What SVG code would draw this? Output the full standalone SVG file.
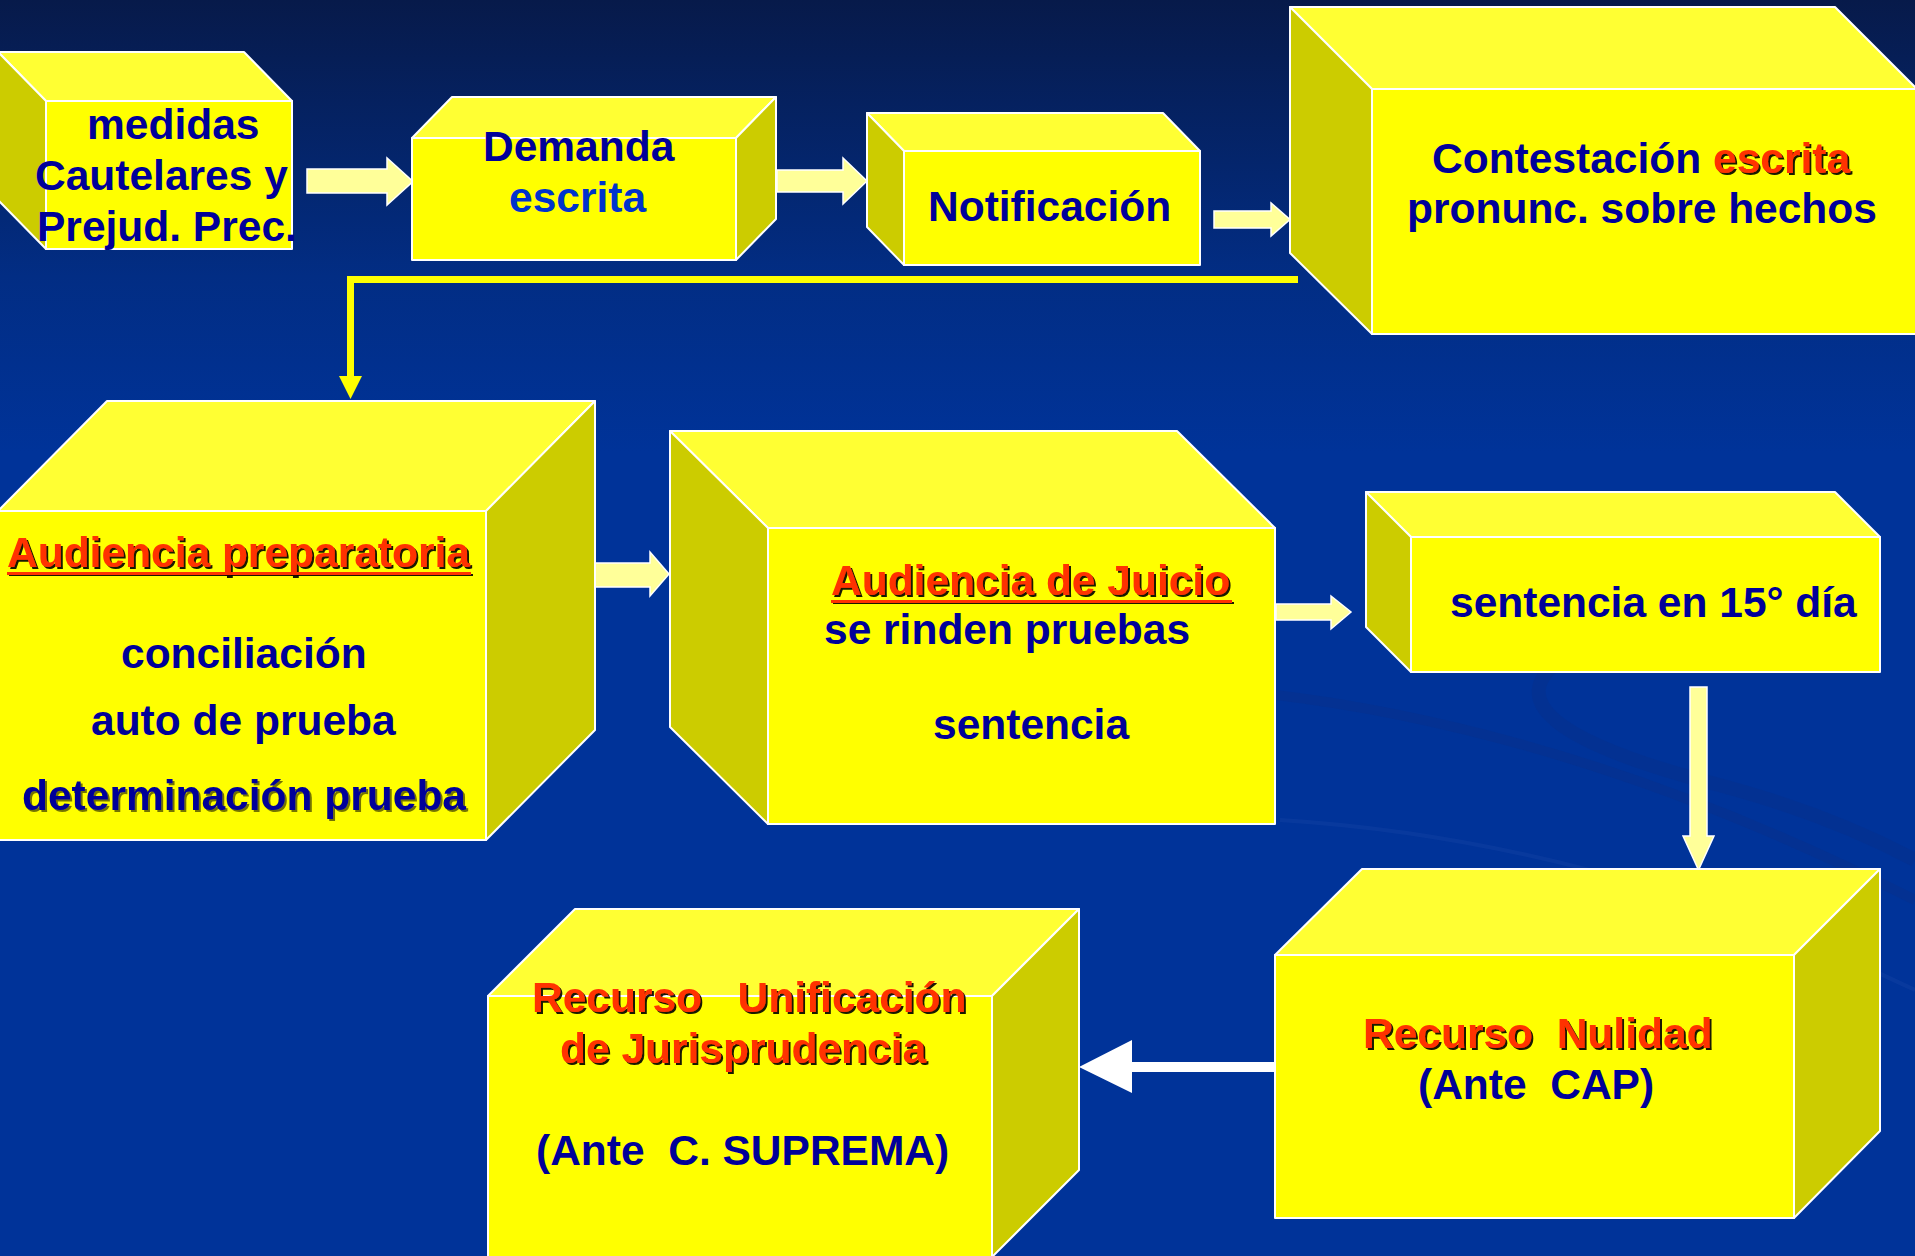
<svg xmlns="http://www.w3.org/2000/svg" width="1915" height="1256" viewBox="0 0 1915 1256">
<defs>
<linearGradient id="bg" x1="0" y1="0" x2="0" y2="1">
<stop offset="0" stop-color="#071a4a"/>
<stop offset="0.22" stop-color="#022d84"/>
<stop offset="0.36" stop-color="#003399"/>
<stop offset="1" stop-color="#003399"/>
</linearGradient>
<filter id="sh" x="-5%" y="-20%" width="110%" height="140%">
<feDropShadow dx="2" dy="2" stdDeviation="0" flood-color="#000000" flood-opacity="0.9"/>
</filter>
<filter id="sh2" x="-5%" y="-20%" width="110%" height="140%">
<feDropShadow dx="2" dy="2" stdDeviation="0" flood-color="#000000" flood-opacity="0.55"/>
</filter>
</defs>
<style>
.top{fill:#ffff33;stroke:#ffffff;stroke-width:2;stroke-linejoin:round}
.front{fill:#ffff00;stroke:#ffffff;stroke-width:2;stroke-linejoin:round}
.side{fill:#cccc00;stroke:#ffffff;stroke-width:2;stroke-linejoin:round}
.t{font-family:"Liberation Sans",Arial,Helvetica,sans-serif;font-weight:bold;font-size:42.5px;fill:#000099;white-space:pre}
.blue{fill:#0033cc}
.red{fill:#ff3300;filter:url(#sh)}
.dsh{filter:url(#sh2)}
.ul{fill:#ff3300;filter:url(#sh)}
.pale{fill:#ffff99;stroke:#ffffff;stroke-width:1.5;stroke-linejoin:miter}
.ylw{fill:none;stroke:#ffff00;stroke-width:7}
</style>
<rect x="0" y="0" width="1915" height="1256" fill="url(#bg)"/>
<g id="swoosh" fill="none">
<path d="M1280 820 Q1600 840 1915 990" stroke="#1a48aa" stroke-width="4" opacity="0.3"/>
<path d="M1230 690 Q1560 720 1915 900" stroke="#0a2f86" stroke-width="10" opacity="0.4"/>
<path d="M1560 660 Q1480 720 1700 780 Q1820 810 1915 860" stroke="#0a2f86" stroke-width="14" opacity="0.3"/>
</g>

<g id="connectors">
<polygon class="pale" points="307,169 387,169 387,158 413,181.5 387,205 387,193 307,193"/>
<polygon class="pale" points="777,170 843,170 843,158 867,181 843,204 843,192 777,192"/>
<polygon class="pale" points="1214,211 1271,211 1271,203 1290,219.5 1271,236 1271,228 1214,228"/>
<polyline class="ylw" points="1298,279.5 350.5,279.5 350.5,378"/>
<polygon fill="#ffff00" points="339,376 362,376 350.5,399"/>
<polygon class="pale" points="595,563 650,563 650,552 669,574 650,596 650,587 595,587"/>
<polygon class="pale" points="1276,604 1331,604 1331,596 1351,612 1331,629 1331,620 1276,620"/>
<polygon class="pale" points="1690,687 1707,687 1707,836 1714,836 1698.5,870 1683,836 1690,836"/>
<polygon fill="#ffffff" points="1275,1062 1132,1062 1132,1040 1079,1067 1132,1093 1132,1072 1275,1072"/>
</g>

<g id="n-medidas">
<polygon class="top" points="-2,52 244,52 292,101 46,101"/>
<polygon class="side" points="-2,52 46,101 46,249 -2,200"/>
<rect class="front" x="46" y="101" width="246" height="148"/>
<text class="t" x="87" y="139">medidas</text>
<text class="t" x="35" y="190">Cautelares y</text>
<text class="t" x="37" y="241">Prejud. Prec.</text>
</g>

<g id="n-demanda">
<polygon class="top" points="412,138 452,97 776,97 736,138"/>
<polygon class="side" points="736,138 776,97 776,219 736,260"/>
<rect class="front" x="412" y="138" width="324" height="122"/>
<text class="t" x="483" y="161">Demanda</text>
<text class="t blue" x="509" y="212">escrita</text>
</g>

<g id="n-notificacion">
<polygon class="top" points="867,113 1163,113 1200,151 904,151"/>
<polygon class="side" points="867,113 904,151 904,265 867,227"/>
<rect class="front" x="904" y="151" width="296" height="114"/>
<text class="t" x="928" y="221">Notificación</text>
</g>

<g id="n-contestacion">
<polygon class="top" points="1290,7 1835,7 1917,89 1372,89"/>
<polygon class="side" points="1290,7 1372,89 1372,334 1290,253"/>
<rect class="front" x="1372" y="89" width="545" height="245"/>
<text class="t" x="1432" y="173">Contestación <tspan class="red">escrita</tspan></text>
<text class="t" x="1407" y="223">pronunc. sobre hechos</text>
</g>

<g id="n-audiencia-preparatoria">
<polygon class="top" points="-2,511 107,401 595,401 486,511"/>
<polygon class="side" points="486,511 595,401 595,730 486,840"/>
<rect class="front" x="-2" y="511" width="488" height="329"/>
<text class="t red" x="7" y="567">Audiencia preparatoria</text>
<rect class="ul" x="7" y="572" width="464" height="3"/>
<text class="t" x="121" y="668">conciliación</text>
<text class="t" x="91" y="735">auto de prueba</text>
<text class="t dsh" x="22" y="810">determinación prueba</text>
</g>

<g id="n-audiencia-juicio">
<polygon class="top" points="670,431 1177,431 1275,528 768,528"/>
<polygon class="side" points="670,431 768,528 768,824 670,727"/>
<rect class="front" x="768" y="528" width="507" height="296"/>
<text class="t red" x="831" y="595">Audiencia de Juicio</text>
<rect class="ul" x="831" y="600" width="401" height="3"/>
<text class="t" x="824" y="644">se rinden pruebas</text>
<text class="t" x="933" y="739">sentencia</text>
</g>

<g id="n-sentencia-15">
<polygon class="top" points="1366,492 1835,492 1880,537 1411,537"/>
<polygon class="side" points="1366,492 1411,537 1411,672 1366,627"/>
<rect class="front" x="1411" y="537" width="469" height="135"/>
<text class="t" x="1450" y="617">sentencia en 15° día</text>
</g>

<g id="n-recurso-nulidad">
<polygon class="top" points="1275,955 1362,869 1880,869 1794,955"/>
<polygon class="side" points="1794,955 1880,869 1880,1131 1794,1218"/>
<rect class="front" x="1275" y="955" width="519" height="263"/>
<text class="t red" x="1363" y="1048">Recurso  Nulidad</text>
<text class="t" x="1418" y="1099">(Ante  CAP)</text>
</g>

<g id="n-recurso-unificacion">
<polygon class="top" points="488,996 575,909 1079,909 992,996"/>
<polygon class="side" points="992,996 1079,909 1079,1170 992,1257"/>
<rect class="front" x="488" y="996" width="504" height="264"/>
<text class="t red" x="532" y="1012">Recurso   Unificación</text>
<text class="t red" x="560" y="1063">de Jurisprudencia</text>
<text class="t" x="536" y="1165">(Ante  C. SUPREMA)</text>
</g>
</svg>
